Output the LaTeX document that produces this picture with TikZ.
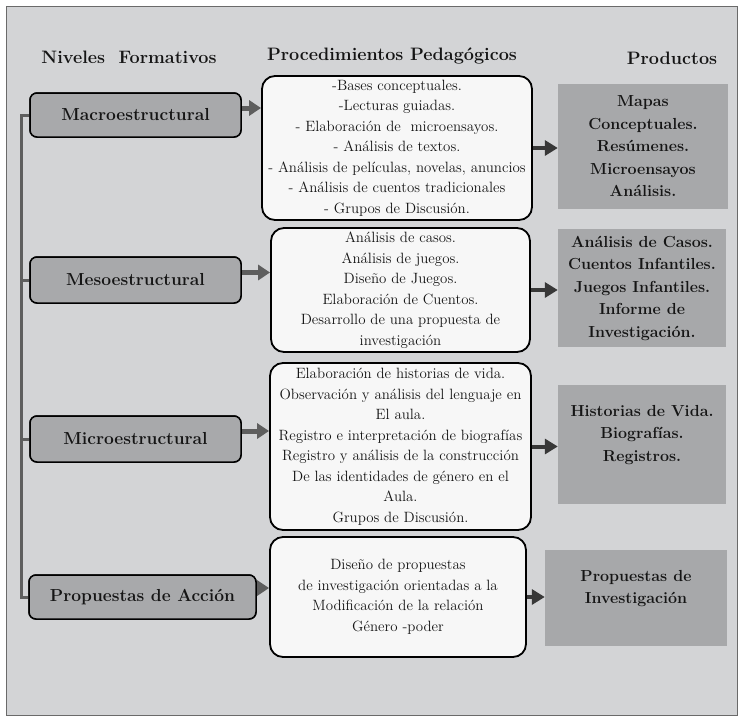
\documentclass[tikz,border=0pt]{standalone}
\usepackage{fontspec}
\usetikzlibrary{arrows.meta}
\definecolor{bg}{HTML}{D3D4D6}
\definecolor{framec}{HTML}{6A6A6A}
\definecolor{lvlfill}{HTML}{A8A9AB}
\definecolor{procfill}{HTML}{F7F7F7}
\definecolor{prodfill}{HTML}{A7A8AA}
\definecolor{arrgray}{HTML}{5E5E5E}
\definecolor{arrdark}{HTML}{383838}
\definecolor{txt}{HTML}{151515}
\begin{document}
\begin{tikzpicture}[x=1pt,y=-1pt,
  hdr/.style={font=\fontsize{18}{21}\selectfont\bfseries, text=txt, inner sep=0pt},
  lvl/.style={draw=black, line width=1.5pt, fill=lvlfill, rounded corners=7pt, inner sep=0pt,
    font=\fontsize{17.4}{20}\selectfont\bfseries, text=txt},
  proc/.style={draw=black, line width=1.8pt, fill=procfill, rounded corners=13pt, inner sep=0pt,
    align=center, font=\fontsize{14.9}{20.5}\selectfont, text=txt},
  prod/.style={fill=prodfill, inner sep=0pt, align=center,
    font=\fontsize{16}{22.5}\selectfont\bfseries, text=txt},
  larrow/.style={draw=arrgray, line width=5pt, -{Triangle[width=15pt,length=12pt]}},
  rarrow/.style={draw=arrdark, line width=4pt, -{Triangle[width=15pt,length=13pt]}},
  spine/.style={draw=arrgray, line width=3pt, line join=miter}]
\useasboundingbox (0,0) rectangle (743,717);
\fill[white] (0,0) rectangle (743,717);
\draw[draw=framec, fill=bg, line width=1pt] (6.5,6.5) rectangle (737,715);

% headers
\node[hdr] (h1) at (129,57) {Niveles~ Formativos};
\node[hdr] (h2) at (392,56) {Procedimientos Pedagógicos};
\node[hdr] (h3) at (672,58) {Productos};

% spine
\coordinate (sp) at (21,0);

% level boxes (positions)
\node[lvl, minimum width=211pt, minimum height=44pt] (macro) at (135.5,115) {Macroestructural};
\node[lvl, minimum width=211pt, minimum height=46pt] (meso) at (135.5,280) {Mesoestructural};
\node[lvl, minimum width=211pt, minimum height=46pt] (micro) at (135.5,439) {Microestructural};
\node[lvl, minimum width=227pt, minimum height=44pt] (prop) at (142.5,597) {Propuestas de Acción};

\draw[spine] (macro.west) -- (macro.west -| sp) -- (prop.west -| sp) -- (prop.west);
\draw[spine] (meso.west -| sp) -- (meso.west);
\draw[spine] (micro.west -| sp) -- (micro.west);

% level boxes redrawn on top of the spine ends
\node[lvl, minimum width=211pt, minimum height=44pt] at (macro) {Macroestructural};
\node[lvl, minimum width=211pt, minimum height=46pt] at (meso) {Mesoestructural};
\node[lvl, minimum width=211pt, minimum height=46pt] at (micro) {Microestructural};
\node[lvl, minimum width=227pt, minimum height=44pt] at (prop) {Propuestas de Acción};

% procedure boxes
\node[proc, minimum width=270pt, minimum height=144pt] (m1) at (397,148) {%
-Bases conceptuales.\\
-Lecturas guiadas.\\
- Elaboración de~ microensayos.\\
- Análisis de textos.\\
- Análisis de películas, novelas, anuncios\\
- Análisis de cuentos tradicionales\\
- Grupos de Discusión.};
\node[proc, minimum width=259pt, minimum height=124pt] (m2) at (400.5,290) {%
Análisis de casos.\\
Análisis de juegos.\\
Diseño de Juegos.\\
Elaboración de Cuentos.\\
Desarrollo de una propuesta de\\
investigación};
\node[proc, minimum width=261pt, minimum height=167pt] (m3) at (400.5,446.5) {%
Elaboración de historias de vida.\\
Observación y análisis del lenguaje en\\
El aula.\\
Registro e interpretación de biografías\\
Registro y análisis de la construcción\\
De las identidades de género en el\\
Aula.\\
Grupos de Discusión.};
\node[proc, minimum width=256pt, minimum height=120pt] (m4) at (398,597) {%
Diseño de propuestas\\
de investigación orientadas a la\\
Modificación de la relación\\
Género -poder};

% product boxes
\node[prod, minimum width=170pt, minimum height=125pt] (p1) at (643,146.5) {%
Mapas\\ Conceptuales.\\ Resúmenes.\\ Microensayos\\ Análisis.};
\node[prod, minimum width=168pt, minimum height=118pt] (p2) at (642,288) {%
Análisis de Casos.\\ Cuentos Infantiles.\\ Juegos Infantiles.\\ Informe de\\ Investigación.};
\node[prod, minimum width=168pt, minimum height=119pt] (p3) at (642,444.5) {%
Historias de Vida.\\ Biografías.\\ Registros.\\ \mbox{}};
\node[prod, minimum width=182pt, minimum height=96pt] (p4) at (636,598) {%
Propuestas de\\ Investigación\\ \mbox{}};

% arrows level -> procedures
\draw[larrow] ([yshift=7pt]macro.east) -- ([yshift=7pt]macro.east -| m1.west);
\draw[larrow] ([yshift=7.5pt]meso.east) -- ([yshift=7.5pt]meso.east -| m2.west);
\draw[larrow] ([yshift=8pt]micro.east) -- ([yshift=8pt]micro.east -| m3.west);
\draw[larrow] ([yshift=9pt]prop.east) -- ([yshift=9pt]prop.east -| m4.west);

% arrows procedures -> products
\draw[rarrow] (m1.east) -- (m1.east -| p1.west);
\draw[rarrow] (m2.east) -- (m2.east -| p2.west);
\draw[rarrow] (m3.east) -- (m3.east -| p3.west);
\draw[rarrow] (m4.east) -- (m4.east -| p4.west);
\end{tikzpicture}
\end{document}
